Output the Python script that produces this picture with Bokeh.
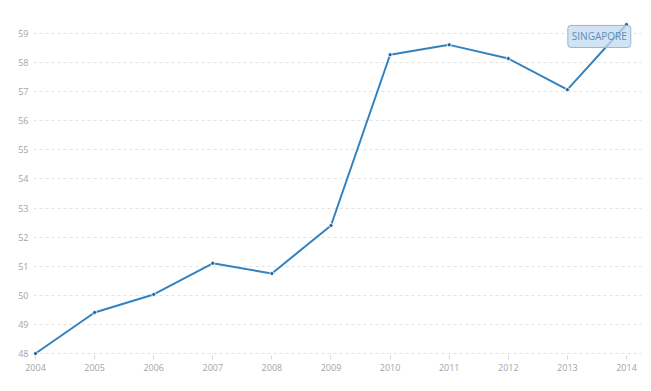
from bokeh.plotting import figure
from bokeh.models import Range1d, Label, FixedTicker
from bokeh.embed import file_html
from bokeh.resources import INLINE

years = [2004, 2005, 2006, 2007, 2008, 2009, 2010, 2011, 2012, 2013, 2014]
values = [48.0, 49.41, 50.03, 51.10, 50.75, 52.40, 58.27, 58.61, 58.14, 57.07, 59.31]
y_ticks = list(range(48, 60))
series_name = "SINGAPORE"

LINE = "#3382c0"
LABEL_COLOR = "#a4a4a4"

p = figure(width=651, height=391, output_backend="svg", toolbar_location=None,
           x_range=Range1d(2003.966, 2014.254), y_range=Range1d(47.93, 59.86),
           min_border_left=33, min_border_right=10, min_border_top=8, min_border_bottom=36)
p.outline_line_color = None
p.background_fill_color = "white"
p.border_fill_color = "white"

p.line(years, values, line_color=LINE, line_width=2)
p.scatter(years, values, size=4, fill_color="#1f5f99", line_color="white", line_width=0.8)

p.xaxis.ticker = FixedTicker(ticks=years)
p.yaxis.ticker = FixedTicker(ticks=y_ticks)
for ax in (p.xaxis[0], p.yaxis[0]):
    ax.axis_line_color = None
    ax.major_label_text_font = "Open Sans"
    ax.major_label_text_font_size = "9px"
    ax.major_label_text_color = LABEL_COLOR
    ax.minor_tick_line_color = None
p.xaxis.major_tick_line_color = "#d8d8d8"
p.xaxis.major_tick_out = 4
p.xaxis.major_tick_in = 0
p.xaxis.major_label_standoff = 4
p.yaxis.major_tick_line_color = None
p.yaxis.major_tick_out = 0
p.yaxis.major_tick_in = 0
p.yaxis.major_label_standoff = 5

p.xgrid.grid_line_color = None
p.ygrid.grid_line_color = "#e2e2e2"
p.ygrid.grid_line_dash = "3 3"
p.ygrid.grid_line_width = 1

lab = Label(x=2013.54, y=58.90, text=series_name, text_align="center", text_baseline="middle",
            text_font="Open Sans", text_font_size="10px", text_color="#5b8db9",
            background_fill_color="#c3dbef", background_fill_alpha=0.75,
            border_line_color="#8fb7da", border_line_width=1,
            padding=4, border_radius=3)
p.add_layout(lab)

open("out.html", "w").write(file_html(p, INLINE))
